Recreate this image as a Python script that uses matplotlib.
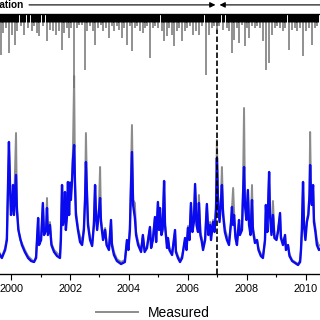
import numpy as np
from matplotlib import pyplot as plt
from matplotlib.ticker import MultipleLocator

# daily rainfall (decimal year, mm) - hangs from the top of the plot
rain_year = [
    1999.65, 1999.74, 1999.83, 1999.93, 2000.02, 2000.14, 2000.21, 2000.33, 2000.44, 2000.59,
    2000.70, 2000.78, 2000.87, 2000.96, 2001.07, 2001.21, 2001.32, 2001.43, 2001.53, 2001.62,
    2001.72, 2001.80, 2001.89, 2001.98, 2002.04, 2002.14, 2002.23, 2002.32, 2002.40, 2002.51,
    2002.59, 2002.68, 2002.77, 2002.86, 2002.96, 2003.04, 2003.13, 2003.22, 2003.31, 2003.41,
    2003.49, 2003.58, 2003.66, 2003.75, 2003.84, 2003.94, 2004.03, 2004.10, 2004.20, 2004.28,
    2004.37, 2004.46, 2004.54, 2004.62, 2004.71, 2004.80, 2004.89, 2004.98, 2005.11, 2005.19,
    2005.28, 2005.37, 2005.45, 2005.53, 2005.62, 2005.71, 2005.80, 2005.90, 2005.98, 2006.07,
    2006.18, 2006.27, 2006.36, 2006.46, 2006.61, 2006.70, 2006.80, 2006.88, 2006.97, 2007.06,
    2007.18, 2007.31, 2007.40, 2007.48, 2007.56, 2007.65, 2007.72, 2007.82, 2007.92, 2008.01,
    2008.08, 2008.16, 2008.27, 2008.35, 2008.44, 2008.55, 2008.64, 2008.74, 2008.84, 2008.95,
    2009.03, 2009.12, 2009.21, 2009.30, 2009.41, 2009.52, 2009.63, 2009.71, 2009.80, 2009.91,
    2010.00, 2010.09, 2010.19, 2010.29, 2010.38,
]
rain_mm = [
    41, 19, 14, 39, 21, 31, 17, 12, 21, 14,
    17, 12, 19, 22, 12, 27, 16, 17, 21, 17,
    36, 19, 14, 24, 14, 74, 14, 11, 11, 56,
    17, 12, 17, 31, 14, 11, 17, 14, 24, 12,
    17, 12, 16, 24, 14, 31, 12, 37, 14, 12,
    17, 19, 14, 12, 44, 14, 12, 14, 17, 27,
    22, 14, 21, 32, 17, 14, 27, 17, 14, 12,
    21, 17, 21, 12, 61, 21, 14, 12, 16, 12,
    16, 14, 17, 39, 26, 14, 29, 11, 32, 14,
    24, 12, 14, 12, 14, 27, 56, 49, 21, 14,
    12, 14, 17, 14, 36, 16, 14, 17, 14, 42,
    17, 14, 31, 14, 12,
]

# streamflow (decimal year, measured and simulated)
flow_year = [
    1999.36, 1999.56, 1999.69, 1999.80, 1999.86, 1999.93, 1999.97, 2000.00, 2000.05, 2000.07,
    2000.10, 2000.17, 2000.20, 2000.25, 2000.31, 2000.37, 2000.47, 2000.58, 2000.68, 2000.78,
    2000.85, 2000.92, 2000.95, 2001.02, 2001.08, 2001.12, 2001.19, 2001.22, 2001.25, 2001.32,
    2001.37, 2001.46, 2001.56, 2001.66, 2001.69, 2001.73, 2001.76, 2001.81, 2001.83, 2001.86,
    2001.90, 2001.93, 2001.97, 2002.00, 2002.03, 2002.07, 2002.10, 2002.14, 2002.17, 2002.20,
    2002.27, 2002.34, 2002.41, 2002.47, 2002.51, 2002.54, 2002.58, 2002.61, 2002.68, 2002.75,
    2002.81, 2002.85, 2002.88, 2002.92, 2002.98, 2003.02, 2003.05, 2003.12, 2003.19, 2003.24,
    2003.32, 2003.39, 2003.42, 2003.49, 2003.59, 2003.73, 2003.86, 2003.93, 2003.98, 2004.03,
    2004.10, 2004.14, 2004.20, 2004.24, 2004.31, 2004.41, 2004.47, 2004.53, 2004.61, 2004.71,
    2004.75, 2004.81, 2004.88, 2004.92, 2004.98, 2005.02, 2005.05, 2005.10, 2005.14, 2005.19,
    2005.22, 2005.29, 2005.32, 2005.37, 2005.46, 2005.56, 2005.59, 2005.66, 2005.73, 2005.80,
    2005.90, 2005.95, 2006.00, 2006.05, 2006.10, 2006.15, 2006.20, 2006.24, 2006.29, 2006.34,
    2006.37, 2006.42, 2006.47, 2006.51, 2006.58, 2006.64, 2006.69, 2006.75, 2006.78, 2006.85,
    2006.90, 2006.95, 2006.98, 2007.02, 2007.07, 2007.12, 2007.15, 2007.19, 2007.25, 2007.32,
    2007.39, 2007.46, 2007.49, 2007.53, 2007.56, 2007.61, 2007.66, 2007.73, 2007.76, 2007.83,
    2007.86, 2007.90, 2007.93, 2007.98, 2008.03, 2008.07, 2008.12, 2008.17, 2008.20, 2008.27,
    2008.34, 2008.39, 2008.47, 2008.54, 2008.61, 2008.64, 2008.69, 2008.75, 2008.78, 2008.83,
    2008.88, 2008.93, 2009.00, 2009.05, 2009.12, 2009.15, 2009.22, 2009.29, 2009.32, 2009.39,
    2009.44, 2009.53, 2009.63, 2009.73, 2009.80, 2009.83, 2009.86, 2009.90, 2009.93, 2009.98,
    2010.03, 2010.08, 2010.12, 2010.14, 2010.17, 2010.20, 2010.24, 2010.27, 2010.32, 2010.37,
    2010.44, 2010.54, 2010.68,
]
flow_measured = [
    18, 24, 17, 26, 36, 129, 89, 64, 76, 86,
    62, 141, 69, 46, 34, 31, 24, 18, 15, 12,
    18, 54, 32, 36, 69, 42, 46, 76, 42, 52,
    31, 24, 21, 18, 36, 88, 52, 61, 80, 48,
    62, 90, 64, 92, 79, 96, 124, 198, 94, 64,
    46, 38, 32, 46, 76, 141, 79, 52, 36, 30,
    52, 88, 62, 48, 66, 107, 56, 38, 46, 32,
    26, 52, 32, 22, 15, 12, 14, 32, 26, 46,
    149, 74, 71, 42, 32, 24, 38, 24, 28, 46,
    29, 36, 56, 34, 70, 46, 64, 42, 46, 91,
    52, 28, 36, 26, 21, 42, 24, 18, 14, 18,
    34, 27, 48, 38, 69, 46, 54, 88, 52, 46,
    79, 42, 36, 26, 36, 68, 42, 52, 38, 54,
    44, 69, 134, 74, 56, 79, 107, 64, 46, 38,
    32, 52, 65, 86, 64, 39, 32, 52, 42, 46,
    76, 166, 74, 58, 82, 54, 44, 89, 48, 34,
    34, 26, 20, 18, 32, 67, 46, 100, 62, 44,
    73, 39, 36, 44, 59, 38, 32, 38, 26, 29,
    20, 14, 12, 10, 14, 24, 42, 90, 52, 38,
    54, 61, 84, 142, 84, 74, 88, 56, 46, 34,
    28, 30, 24,
]
flow_simulated = [
    16, 22, 16, 24, 34, 132, 84, 59, 74, 89,
    59, 99, 64, 44, 36, 29, 22, 16, 13, 12,
    16, 56, 29, 34, 71, 39, 44, 66, 39, 49,
    29, 22, 18, 16, 34, 89, 49, 59, 82, 44,
    59, 92, 59, 91, 74, 94, 114, 129, 89, 59,
    44, 32, 29, 44, 74, 112, 74, 49, 34, 28,
    49, 89, 59, 44, 62, 76, 52, 34, 44, 29,
    24, 54, 29, 19, 13, 10, 12, 34, 24, 44,
    122, 69, 56, 39, 29, 22, 39, 22, 26, 47,
    26, 34, 57, 32, 72, 44, 66, 39, 44, 93,
    49, 26, 36, 24, 19, 44, 22, 16, 12, 16,
    36, 24, 46, 34, 71, 42, 52, 90, 49, 42,
    71, 39, 32, 24, 34, 70, 39, 49, 34, 52,
    42, 64, 116, 69, 52, 74, 89, 59, 42, 34,
    29, 52, 67, 49, 59, 36, 29, 54, 39, 44,
    74, 107, 69, 54, 84, 49, 39, 74, 44, 31,
    34, 24, 18, 16, 34, 69, 42, 102, 59, 39,
    59, 36, 34, 42, 61, 36, 29, 39, 24, 29,
    18, 13, 11, 9, 12, 24, 44, 92, 49, 34,
    52, 59, 79, 109, 79, 69, 89, 52, 42, 29,
    24, 27, 22,
]

split_year = 2007.0
year_ticks = [2000, 2002, 2004, 2006, 2008, 2010]

plt.rcParams['font.family'] = ['Liberation Sans', 'DejaVu Sans']

fig = plt.figure(figsize=(3.2, 3.2), dpi=100)
# the axes run past the canvas on both sides, like the cropped original
ax = fig.add_axes([-0.03125, 0.14375, 1.0625, 0.8125])

ax.plot(flow_year, flow_measured, color='0.55', lw=1.4, label='Measured', zorder=2)
ax.plot(flow_year, flow_simulated, color='#0a0af0', lw=1.7, label='Simulated', zorder=3)
ax.set_xlim(1999.288, 2010.814)
ax.set_ylim(0, 260)
ax.axvline(split_year, color='black', lw=1.2, linestyle=(0, (3.3, 1.5)), zorder=4)

ax.xaxis.set_major_locator(MultipleLocator(2))
ax.xaxis.set_minor_locator(MultipleLocator(1))
ax.set_xticks(year_ticks)
ax.tick_params(axis='x', which='major', direction='out', length=4, width=0.8,
               labelsize=7.8, pad=3)
ax.tick_params(axis='x', which='minor', direction='out', length=2.5, width=0.8)
ax.tick_params(axis='y', left=False, labelleft=False)
for side in ['bottom', 'top']:
    ax.spines[side].set_linewidth(0.9)

# rainfall on an inverted twin axis: thin grey full depth, dark where the
# daily bars crowd together near the top
ax2 = ax.twinx()
ax2.vlines(rain_year, 0, rain_mm, color='0.45', lw=1.1)
ax2.vlines(rain_year, 0, np.minimum(rain_mm, 8), color='black', lw=2.2)
ax2.set_ylim(260, 0)
ax2.tick_params(axis='y', right=False, labelright=False)

# calibration / validation arrows above the plot
ax.annotate('', xy=(2006.93, 1.035), xytext=(2000.61, 1.035),
            xycoords=('data', 'axes fraction'),
            arrowprops=dict(arrowstyle='-|>', color='black', lw=0.8,
                            mutation_scale=8, shrinkA=0, shrinkB=0),
            annotation_clip=False)
ax.annotate('', xy=(2007.07, 1.035), xytext=(2010.9, 1.035),
            xycoords=('data', 'axes fraction'),
            arrowprops=dict(arrowstyle='-|>', color='black', lw=0.8,
                            mutation_scale=8, shrinkA=0, shrinkB=0),
            annotation_clip=False)
ax.text(2000.44, 1.035, 'Calibration', transform=ax.get_xaxis_transform(),
        ha='right', va='center', fontsize=7.2, fontweight='bold')
ax.text(2010.95, 1.035, 'Validation', transform=ax.get_xaxis_transform(),
        ha='left', va='center', fontsize=7.2, fontweight='bold')

handles, labels = ax.get_legend_handles_labels()
fig.legend(handles, labels, loc='upper left', bbox_to_anchor=(0.3, 0.045),
           frameon=False, fontsize=10, handlelength=3.0, handletextpad=0.7,
           borderpad=0, borderaxespad=0)

plt.savefig('out.png', dpi=100)
